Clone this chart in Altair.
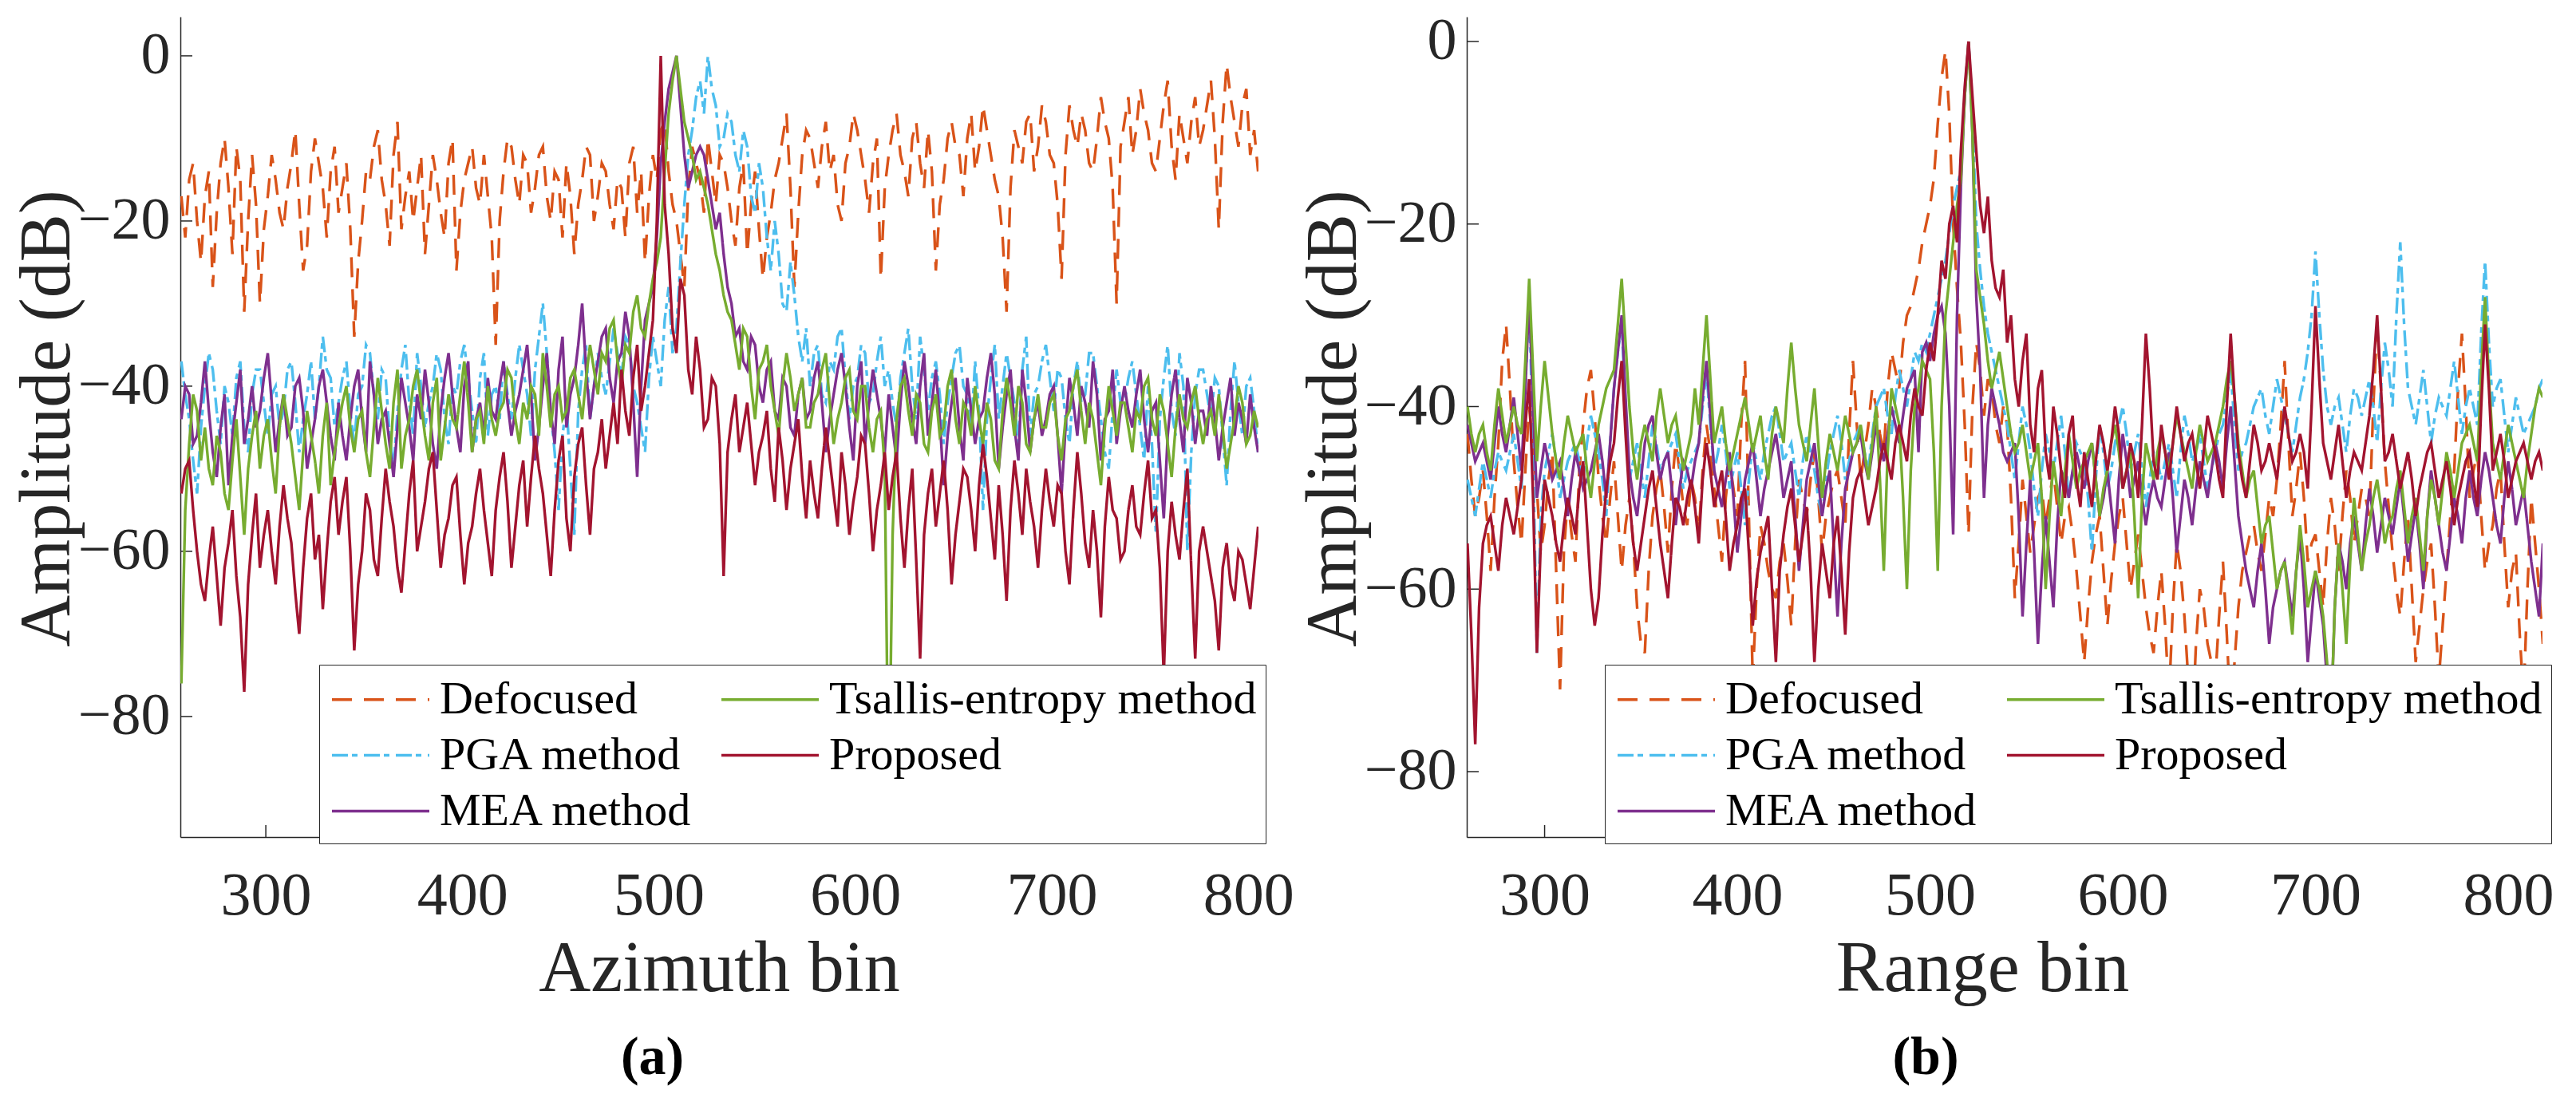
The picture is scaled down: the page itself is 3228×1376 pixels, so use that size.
import altair as alt
import pandas as pd

FONT = "Liberation Serif"
AX = "#262626"

# ---------------- sample grids (bin index of first sample, spacing) ----------------
AZ_START, AZ_STEP = 257, 2
RG_START, RG_STEP = 260, 2

X_TICKS = [300, 400, 500, 600, 700, 800]
Y_TICKS = [0, -20, -40, -60, -80]

SERIES = ["Defocused", "PGA method", "MEA method", "Tsallis-entropy method", "Proposed"]
COLORS = {"Defocused": "#D95319", "PGA method": "#4DBEEE", "MEA method": "#7E2F8E",
          "Tsallis-entropy method": "#77AC30", "Proposed": "#A2142F"}
DASHES = {"Defocused": [25, 15], "PGA method": [20, 5, 7, 8], "MEA method": [1, 0],
          "Tsallis-entropy method": [1, 0], "Proposed": [1, 0]}

# ---------------- (a) azimuth profile, dB (bins 257..805) ----------------
DEF_A = [-17, -22, -15, -13, -20, -25, -17, -14, -28, -19, -13, -10, -16, -24, -11, -15, -31, -20, -12, -18,
         -30, -21, -17, -12, -15, -19, -21, -16, -13, -9, -18, -26, -23, -14, -10, -13, -16, -22, -14, -11,
         -19, -16, -13, -21, -34, -25, -20, -14, -15, -11, -9, -15, -18, -23, -12, -8, -21, -17, -14, -20,
         -16, -12, -24, -18, -12, -15, -19, -22, -13, -10, -26, -19, -15, -13, -11, -16, -18, -12, -17, -22,
         -35, -20, -14, -10, -11, -15, -18, -12, -13, -19, -16, -12, -11, -17, -20, -14, -15, -22, -13, -17,
         -24, -18, -15, -11, -12, -20, -17, -13, -14, -18, -21, -15, -16, -22, -13, -11, -19, -14, -25, -17,
         -12, -15, -9, -8, -14, -18, -20, -24, -28, -16, -11, -13, -15, -19, -10, -14, -18, -12, -13, -16,
         -20, -23, -16, -13, -24, -18, -14, -21, -27, -22, -19, -15, -13, -10, -7, -16, -28, -19, -12, -9,
         -10, -13, -16, -11, -8, -14, -12, -18, -20, -13, -11, -7, -9, -12, -15, -19, -13, -10, -27, -16,
         -12, -9, -7, -12, -14, -17, -10, -8, -13, -16, -9, -14, -26, -18, -15, -10, -8, -11, -12, -17,
         -10, -7, -14, -11, -6, -9, -12, -15, -17, -22, -31, -16, -9, -11, -13, -8, -7, -14, -11, -6,
         -8, -12, -13, -18, -27, -12, -6, -9, -11, -7, -9, -13, -14, -10, -5, -8, -10, -16, -30, -11,
         -8, -5, -12, -9, -4, -7, -9, -13, -14, -10, -6, -3, -11, -15, -7, -10, -13, -8, -5, -11,
         -9, -6, -3, -10, -21, -8, -1, -5, -8, -11, -6, -4, -12, -9, -14]
PGA_A = [-37, -41, -44, -49, -53, -45, -40, -36, -38, -43, -47, -40, -42, -46, -39, -37, -45, -48, -41, -38,
         -38, -42, -46, -41, -40, -45, -43, -38, -37, -42, -48, -44, -41, -37, -44, -40, -34, -38, -39, -45,
         -42, -39, -37, -43, -47, -41, -40, -35, -36, -41, -44, -38, -39, -46, -50, -43, -38, -35, -42, -46,
         -36, -40, -45, -42, -40, -36, -38, -44, -47, -40, -41, -37, -35, -39, -43, -47, -39, -36, -46, -41,
         -40, -44, -37, -41, -44, -39, -35, -38, -41, -46, -38, -34, -30, -36, -43, -48, -55, -46, -42, -50,
         -58, -43, -38, -35, -44, -40, -36, -39, -41, -37, -33, -36, -39, -34, -35, -40, -42, -45, -48, -39,
         -34, -37, -40, -32, -28, -36, -33, -25, -18, -12, -9, -5, -3, -7, 0, -4, -6, -11, -10, -7,
         -8, -12, -14, -9, -11, -17, -19, -13, -16, -22, -26, -20, -24, -30, -31, -25, -29, -34, -37, -33,
         -40, -36, -35, -41, -42, -37, -38, -34, -33, -39, -44, -40, -39, -35, -36, -42, -41, -37, -34, -40,
         -38, -42, -45, -39, -36, -33, -40, -44, -34, -38, -43, -39, -37, -41, -47, -42, -39, -36, -35, -40,
         -41, -45, -37, -43, -55, -44, -39, -35, -44, -40, -36, -39, -42, -47, -38, -34, -46, -41, -40, -37,
         -35, -39, -43, -38, -39, -44, -47, -40, -37, -42, -41, -36, -36, -40, -44, -48, -50, -43, -38, -42,
         -42, -39, -37, -41, -45, -49, -40, -47, -58, -44, -39, -35, -43, -46, -36, -40, -60, -48, -41, -38,
         -38, -41, -44, -39, -40, -46, -52, -43, -37, -42, -46, -40, -39, -43, -48]
MEA_A = [-44, -40, -41, -47, -46, -42, -37, -43, -48, -51, -45, -41, -52, -46, -42, -38, -47, -44, -40, -45,
         -43, -39, -36, -42, -48, -44, -41, -46, -45, -40, -39, -43, -50, -47, -44, -40, -38, -42, -46, -49,
         -42, -46, -49, -44, -40, -38, -44, -48, -37, -41, -47, -44, -43, -47, -51, -45, -39, -42, -45, -49,
         -41, -44, -38, -42, -47, -50, -43, -39, -36, -41, -45, -48, -40, -37, -48, -44, -42, -46, -39, -43,
         -44, -40, -37, -42, -46, -43, -41, -38, -35, -41, -49, -45, -40, -36, -43, -47, -38, -34, -45, -41,
         -39, -35, -30, -38, -44, -40, -37, -34, -33, -39, -42, -37, -36, -31, -34, -42, -51, -40, -32, -30,
         -28, -22, -13, -8, -4, -2, 0, -6, -12, -16, -14, -12, -11, -12, -15, -18, -21, -19, -24, -28,
         -30, -34, -33, -37, -38, -34, -35, -40, -42, -38, -37, -43, -44, -39, -40, -45, -46, -41, -39, -44,
         -43, -39, -37, -42, -48, -44, -41, -38, -36, -40, -45, -49, -40, -37, -47, -42, -38, -41, -44, -48,
         -41, -45, -49, -42, -37, -40, -44, -47, -40, -36, -46, -42, -38, -44, -52, -46, -42, -39, -45, -49,
         -39, -43, -47, -44, -43, -39, -36, -41, -50, -45, -41, -38, -45, -49, -38, -42, -48, -44, -42, -46,
         -44, -41, -40, -46, -53, -45, -39, -42, -46, -40, -42, -45, -37, -41, -49, -44, -43, -38, -47, -43,
         -40, -43, -45, -41, -38, -44, -48, -43, -42, -49, -56, -46, -41, -38, -44, -48, -39, -42, -47, -43,
         -43, -46, -40, -44, -49, -45, -42, -39, -46, -42, -44, -47, -41, -45, -48]
TSA_A = [-76, -55, -47, -41, -43, -49, -45, -50, -52, -46, -48, -53, -55, -49, -44, -51, -58, -50, -46, -43,
         -50, -46, -44, -49, -53, -45, -41, -44, -47, -51, -55, -48, -43, -46, -49, -53, -46, -42, -52, -48,
         -45, -42, -40, -45, -48, -44, -43, -48, -51, -45, -39, -43, -47, -50, -42, -38, -50, -46, -44, -40,
         -38, -42, -46, -49, -42, -39, -49, -45, -41, -44, -45, -41, -37, -42, -48, -44, -43, -47, -40, -44,
         -46, -43, -42, -38, -39, -44, -47, -42, -44, -40, -41, -46, -36, -40, -45, -41, -40, -44, -43, -39,
         -38, -41, -44, -39, -35, -38, -41, -36, -37, -33, -32, -37, -40, -35, -36, -31, -29, -33, -34, -30,
         -27, -25, -22, -14, -7, -3, 0, -4, -8, -10, -12, -15, -14, -16, -18, -21, -24, -26, -29, -31,
         -32, -35, -38, -33, -34, -40, -44, -38, -37, -35, -40, -43, -46, -40, -36, -39, -43, -41, -39, -45,
         -45, -42, -41, -38, -36, -42, -47, -44, -42, -39, -38, -43, -44, -40, -40, -45, -48, -44, -43, -50,
         -92, -58, -44, -40, -39, -43, -46, -41, -42, -47, -48, -43, -41, -46, -45, -40, -38, -44, -47, -42,
         -43, -46, -40, -44, -47, -42, -44, -49, -50, -43, -39, -42, -46, -40, -42, -47, -48, -44, -41, -45,
         -45, -42, -41, -46, -49, -44, -43, -40, -38, -43, -47, -42, -44, -48, -52, -45, -40, -43, -46, -42,
         -42, -45, -48, -43, -44, -40, -39, -44, -46, -41, -43, -47, -51, -45, -41, -44, -45, -42, -40, -44,
         -47, -44, -43, -46, -41, -45, -50, -47, -44, -40, -42, -47, -46, -43, -45]
PRO_A = [-53, -50, -49, -55, -60, -64, -66, -61, -57, -63, -69, -62, -59, -55, -63, -68, -77, -64, -58, -53,
         -62, -58, -55, -60, -64, -57, -52, -56, -59, -65, -70, -62, -56, -53, -61, -58, -67, -60, -54, -51,
         -58, -54, -51, -60, -72, -64, -60, -53, -55, -61, -63, -56, -50, -54, -57, -62, -65, -59, -53, -49,
         -60, -57, -54, -50, -48, -55, -62, -58, -56, -52, -51, -58, -64, -59, -57, -53, -50, -55, -59, -63,
         -55, -51, -48, -54, -62, -57, -52, -49, -57, -51, -46, -50, -53, -58, -63, -55, -49, -46, -56, -60,
         -51, -47, -45, -52, -58, -50, -48, -44, -50, -46, -42, -47, -38, -43, -46, -39, -35, -43, -40, -36,
         -32, -20, 0, -18, -24, -33, -36, -27, -29, -38, -41, -34, -38, -45, -44, -39, -40, -47, -63, -48,
         -44, -41, -48, -45, -42, -47, -52, -48, -46, -43, -50, -54, -45, -49, -55, -50, -47, -44, -51, -56,
         -49, -53, -56, -50, -45, -49, -53, -57, -48, -52, -58, -54, -51, -46, -47, -53, -60, -55, -52, -48,
         -55, -51, -48, -56, -62, -55, -50, -61, -73, -58, -53, -50, -57, -53, -49, -55, -64, -58, -54, -50,
         -51, -55, -60, -52, -47, -51, -56, -61, -52, -58, -66, -55, -49, -53, -58, -50, -54, -57, -62, -55,
         -50, -54, -57, -52, -53, -60, -64, -55, -48, -53, -59, -62, -55, -60, -68, -57, -51, -55, -56, -61,
         -60, -55, -52, -57, -58, -53, -49, -56, -55, -62, -75, -60, -54, -58, -61, -55, -50, -62, -73, -60,
         -57, -60, -63, -66, -72, -62, -59, -64, -66, -60, -61, -64, -67, -62, -57]

# ---------------- (b) range profile, dB (bins 260..818) ----------------
DEF_B = [-43, -48, -52, -50, -47, -52, -58, -50, -44, -35, -31, -38, -46, -51, -55, -47, -40, -45, -49, -56,
         -53, -48, -45, -58, -71, -56, -50, -54, -57, -47, -42, -38, -36, -41, -48, -52, -55, -50, -46, -52,
         -58, -53, -50, -55, -62, -66, -67, -58, -52, -49, -47, -51, -56, -49, -44, -47, -51, -53, -48, -50,
         -54, -47, -42, -45, -49, -53, -57, -50, -46, -49, -52, -42, -35, -52, -70, -60, -53, -55, -58, -60,
         -61, -57, -55, -59, -64, -55, -48, -50, -52, -48, -45, -50, -56, -52, -50, -48, -47, -50, -53, -43,
         -35, -42, -48, -45, -42, -38, -40, -43, -45, -38, -34, -36, -38, -33, -30, -29, -27, -25, -22, -20,
         -18, -15, -9, -4, -1, -8, -20, -27, -33, -42, -54, -40, -33, -36, -41, -37, -38, -42, -44, -40,
         -42, -50, -61, -55, -48, -52, -56, -53, -50, -49, -53, -50, -47, -51, -55, -52, -51, -54, -58, -63,
         -68, -62, -57, -54, -52, -58, -64, -59, -55, -52, -50, -55, -60, -57, -54, -58, -62, -65, -67, -62,
         -58, -64, -72, -62, -55, -58, -63, -70, -76, -66, -60, -62, -66, -68, -70, -63, -57, -65, -74, -68,
         -62, -58, -56, -54, -53, -56, -58, -54, -50, -52, -48, -42, -35, -44, -52, -49, -45, -50, -57, -55,
         -54, -58, -62, -55, -50, -53, -58, -52, -47, -50, -55, -52, -49, -50, -52, -40, -31, -38, -46, -51,
         -56, -60, -63, -57, -52, -60, -68, -64, -60, -57, -55, -62, -70, -64, -58, -52, -47, -38, -32, -40,
         -50, -47, -45, -52, -58, -55, -53, -49, -47, -55, -62, -58, -56, -65, -72, -60, -50, -55, -60, -66]
PGA_B = [-48, -50, -52, -49, -46, -48, -50, -47, -45, -46, -47, -45, -43, -46, -49, -38, -28, -45, -67, -52,
         -47, -45, -43, -46, -50, -48, -46, -45, -44, -46, -48, -44, -41, -43, -45, -48, -52, -44, -38, -34,
         -31, -40, -48, -46, -44, -47, -50, -46, -42, -44, -47, -46, -45, -44, -43, -46, -49, -47, -46, -45,
         -44, -40, -36, -42, -47, -45, -42, -45, -49, -47, -45, -49, -53, -48, -44, -46, -48, -45, -43, -41,
         -40, -43, -46, -45, -44, -47, -50, -46, -43, -45, -47, -50, -52, -48, -45, -43, -41, -44, -48, -46,
         -44, -43, -42, -45, -47, -43, -40, -39, -38, -41, -43, -39, -36, -38, -40, -37, -34, -35, -33, -34,
         -32, -30, -28, -26, -24, -21, -18, -16, -14, -6, 0, -8, -20, -25, -29, -32, -34, -36, -38, -40,
         -42, -45, -48, -44, -40, -42, -45, -49, -52, -47, -43, -45, -47, -44, -41, -45, -50, -47, -44, -45,
         -46, -50, -56, -48, -42, -45, -49, -47, -44, -42, -40, -43, -47, -45, -43, -47, -51, -48, -45, -46,
         -48, -46, -44, -47, -50, -45, -41, -43, -46, -45, -43, -46, -49, -47, -45, -43, -42, -39, -36, -42,
         -47, -45, -44, -42, -40, -39, -38, -41, -43, -40, -37, -39, -41, -43, -45, -42, -39, -37, -34, -30,
         -23, -30, -36, -40, -42, -40, -39, -42, -45, -41, -38, -39, -41, -39, -37, -40, -44, -38, -33, -36,
         -40, -30, -22, -31, -38, -40, -42, -39, -36, -40, -44, -41, -39, -40, -41, -38, -35, -39, -43, -40,
         -38, -40, -42, -32, -24, -33, -40, -38, -37, -41, -45, -42, -39, -41, -43, -42, -41, -40, -38, -37]
MEA_B = [-42, -44, -46, -45, -44, -46, -48, -44, -40, -43, -45, -42, -39, -43, -47, -38, -28, -40, -50, -47,
         -44, -46, -48, -47, -46, -49, -52, -48, -45, -47, -49, -48, -47, -45, -43, -46, -50, -44, -38, -34,
         -30, -39, -47, -50, -52, -48, -44, -42, -41, -45, -48, -46, -45, -49, -53, -49, -46, -47, -49, -46,
         -44, -39, -35, -41, -47, -49, -51, -48, -45, -50, -56, -52, -48, -46, -44, -48, -52, -49, -47, -45,
         -43, -46, -50, -48, -46, -52, -58, -53, -48, -46, -44, -48, -52, -49, -47, -55, -63, -55, -49, -47,
         -45, -44, -43, -46, -48, -45, -42, -44, -46, -43, -40, -42, -44, -41, -38, -37, -36, -45, -34, -33,
         -35, -32, -30, -29, -32, -40, -54, -30, -16, -6, 0, -10, -28, -36, -50, -42, -38, -40, -42, -45,
         -46, -45, -44, -52, -63, -55, -48, -56, -66, -58, -52, -57, -62, -53, -47, -48, -50, -47, -45, -47,
         -49, -46, -44, -48, -52, -50, -47, -51, -55, -48, -43, -46, -50, -48, -46, -50, -53, -50, -48, -50,
         -51, -48, -45, -50, -56, -52, -48, -50, -53, -49, -46, -48, -50, -47, -44, -46, -49, -44, -40, -46,
         -52, -55, -58, -60, -62, -58, -55, -60, -66, -62, -60, -58, -57, -60, -63, -58, -54, -60, -68, -63,
         -58, -61, -64, -70, -75, -62, -55, -57, -60, -55, -52, -55, -58, -53, -49, -52, -56, -53, -50, -52,
         -54, -51, -48, -52, -57, -54, -51, -55, -60, -52, -47, -50, -53, -56, -58, -54, -50, -52, -55, -50,
         -47, -50, -52, -48, -45, -47, -50, -53, -55, -50, -46, -49, -53, -51, -49, -53, -57, -60, -63, -55]
TSA_B = [-40, -43, -45, -43, -42, -45, -47, -42, -38, -41, -44, -42, -40, -42, -43, -35, -26, -36, -46, -40,
         -35, -39, -43, -46, -48, -44, -41, -43, -45, -44, -43, -47, -50, -46, -42, -40, -38, -37, -36, -31,
         -26, -33, -40, -45, -48, -44, -42, -44, -46, -41, -38, -41, -44, -42, -41, -44, -47, -45, -43, -38,
         -42, -36, -30, -37, -44, -42, -40, -44, -47, -45, -43, -41, -39, -42, -45, -43, -41, -45, -48, -43,
         -40, -42, -44, -38, -33, -38, -42, -44, -46, -42, -38, -44, -50, -46, -43, -45, -47, -44, -41, -43,
         -45, -44, -42, -45, -48, -44, -40, -48, -58, -45, -38, -40, -42, -50, -60, -47, -40, -38, -35, -36,
         -37, -45, -58, -40, -30, -26, -22, -18, -15, -6, 0, -10, -25, -28, -31, -35, -38, -36, -34, -37,
         -40, -43, -45, -44, -42, -45, -48, -46, -44, -50, -60, -52, -46, -49, -52, -47, -43, -46, -49, -47,
         -46, -45, -44, -48, -52, -49, -47, -44, -42, -45, -49, -47, -45, -52, -61, -50, -44, -46, -48, -45,
         -43, -45, -47, -44, -41, -43, -45, -47, -49, -45, -42, -44, -46, -45, -44, -42, -40, -37, -35, -39,
         -44, -47, -50, -48, -47, -51, -55, -53, -52, -56, -60, -58, -57, -61, -65, -58, -53, -57, -62, -60,
         -58, -60, -63, -68, -75, -62, -55, -60, -66, -57, -50, -54, -58, -55, -53, -50, -48, -51, -55, -53,
         -52, -49, -47, -51, -55, -52, -50, -54, -58, -52, -48, -50, -53, -49, -45, -47, -50, -47, -44, -43,
         -42, -44, -46, -36, -28, -37, -44, -46, -48, -45, -42, -44, -46, -48, -50, -46, -43, -40, -38, -39]
PRO_B = [-55, -65, -77, -62, -55, -53, -52, -55, -58, -53, -50, -52, -54, -51, -48, -42, -37, -50, -67, -55,
         -48, -50, -52, -55, -57, -53, -50, -52, -54, -49, -46, -53, -60, -64, -61, -54, -49, -46, -44, -39,
         -35, -43, -50, -55, -58, -55, -52, -49, -47, -51, -55, -58, -61, -55, -50, -51, -53, -50, -48, -51,
         -55, -48, -44, -47, -51, -49, -47, -52, -58, -55, -53, -50, -49, -56, -64, -59, -56, -54, -52, -60,
         -68, -58, -54, -51, -49, -53, -57, -54, -51, -58, -68, -60, -55, -58, -61, -55, -52, -58, -65, -56,
         -50, -48, -47, -50, -53, -51, -49, -46, -44, -46, -48, -44, -42, -44, -46, -41, -38, -40, -41, -36,
         -33, -35, -30, -24, -26, -20, -18, -22, -12, -5, 0, -6, -12, -18, -21, -17, -24, -27, -28, -25,
         -33, -30, -37, -40, -35, -32, -42, -45, -38, -36, -45, -48, -40, -43, -47, -50, -43, -41, -48, -51,
         -45, -48, -51, -46, -42, -44, -47, -44, -40, -43, -49, -47, -44, -46, -50, -42, -32, -38, -46, -48,
         -42, -45, -48, -44, -40, -43, -46, -44, -43, -46, -49, -45, -41, -43, -45, -48, -50, -40, -32, -39,
         -45, -48, -50, -46, -42, -44, -47, -46, -44, -46, -48, -44, -40, -43, -46, -45, -43, -45, -49, -40,
         -29, -37, -44, -46, -48, -45, -42, -46, -50, -47, -45, -46, -47, -44, -41, -36, -30, -38, -46, -45,
         -43, -46, -49, -47, -45, -48, -52, -49, -47, -45, -44, -47, -50, -48, -46, -49, -53, -50, -48, -46,
         -45, -48, -51, -40, -31, -38, -47, -45, -43, -46, -50, -48, -46, -45, -44, -46, -48, -46, -45, -47]


def long_frame(start, step, table):
    rows = []
    for name, vals in table.items():
        for i, v in enumerate(vals):
            rows.append({"bin": start + step * i, "amp": v, "series": name})
    return pd.DataFrame(rows)


df_a = long_frame(AZ_START, AZ_STEP, {"Defocused": DEF_A, "PGA method": PGA_A, "MEA method": MEA_A,
                                      "Tsallis-entropy method": TSA_A, "Proposed": PRO_A})
df_b = long_frame(RG_START, RG_STEP, {"Defocused": DEF_B, "PGA method": PGA_B, "MEA method": MEA_B,
                                      "Tsallis-entropy method": TSA_B, "Proposed": PRO_B})

LW = 3.4


def panel(df, xdom, ydom, W, H, xtitle, xtitle_x, xtitle_y, caption, legend_x, legend_y):
    X = alt.X("bin:Q", scale=alt.Scale(domain=xdom, nice=False, zero=False),
              axis=alt.Axis(values=X_TICKS, title=xtitle, grid=False, ticks=False, tickSize=0,
                            domainColor=AX, domainWidth=1.5, labelFont=FONT, labelFontSize=76,
                            labelColor=AX, labelBaseline="alphabetic", labelPadding=96,
                            labelFlush=False, labelOverlap=False, titleFont=FONT, titleFontSize=90,
                            titleFontWeight="normal", titleColor=AX, titleBaseline="alphabetic",
                            titleX=xtitle_x, titleY=xtitle_y))
    Y = alt.Y("amp:Q", scale=alt.Scale(domain=ydom, nice=False, zero=False),
              axis=alt.Axis(values=Y_TICKS, title="Amplitude (dB)", grid=False, ticks=False, tickSize=0,
                            domainColor=AX, domainWidth=1.5, labelFont=FONT, labelFontSize=74,
                            labelColor=AX, labelPadding=13, labelFlush=False, labelOverlap=False,
                            labelExpr="datum.value == 0 ? '0\u00a0' : datum.label",
                            titleFont=FONT, titleFontSize=90, titleFontWeight="normal", titleColor=AX,
                            titleAngle=270, titleBaseline="alphabetic", titleAlign="center",
                            titleX=-140, titleY=503))
    leg = alt.Legend(title=None, orient="none", legendX=legend_x, legendY=legend_y, columns=2,
                     fillColor="white", strokeColor=AX, padding=11, rowPadding=8, columnPadding=28,
                     symbolType="M-2,0L2,0", symbolSize=3721, symbolStrokeWidth=LW,
                     symbolOffset=33.5, labelOffset=41.5,
                     labelFont=FONT, labelFontSize=58, labelColor="black", labelLimit=2000)
    color = alt.Color("series:N", scale=alt.Scale(domain=SERIES,
                                                  range=[COLORS[s] for s in SERIES]), legend=leg)
    dash = alt.StrokeDash("series:N", scale=alt.Scale(domain=SERIES,
                                                      range=[DASHES[s] for s in SERIES]), legend=leg)

    ytk = alt.Chart(pd.DataFrame({"amp": Y_TICKS})).mark_rule(color=AX, strokeWidth=1.5).encode(
        y=Y, x=alt.value(0), x2=alt.value(15))
    xtk = alt.Chart(pd.DataFrame({"bin": X_TICKS})).mark_rule(color=AX, strokeWidth=1.5).encode(
        x=X, y=alt.value(H), y2=alt.value(H - 15))

    base = alt.Chart(df)
    lines = [base.transform_filter(alt.datum.series == s).mark_line(clip=True, strokeWidth=LW)
             .encode(x=X, y=Y, color=color, strokeDash=dash) for s in SERIES]
    return alt.layer(ytk, xtk, *lines).properties(
        width=W, height=H,
        title=alt.TitleParams(caption, orient="bottom", anchor="middle", frame="bounds", font=FONT,
                              fontSize=68, fontWeight="bold", color="black", offset=33))


pa = panel(df_a, [256.5, 805.2], [-94.6, 4.73], 1351, 1028, "Azimuth bin", 675, 192, "(a)", 174, 812)
pb = panel(df_b, [259.6, 817.8], [-87.17, 2.71], 1348, 1028, "Range bin", 646, 192, "(b)", 173, 812)

chart = alt.hconcat(pa, pb, spacing=261).properties(
    bounds="flush", padding={"left": 6, "top": 6, "right": 8, "bottom": 8}
).resolve_scale(color="independent", strokeDash="independent").configure_view(stroke=None)

chart.save("out.html", embed_options={"renderer": "svg", "actions": False})
